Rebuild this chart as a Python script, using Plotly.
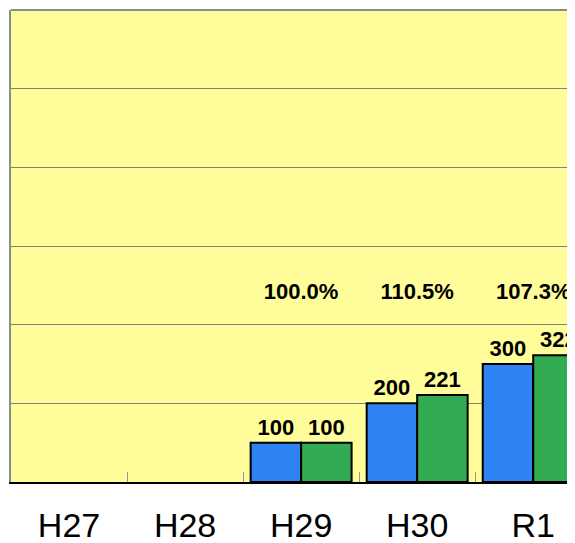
import plotly.graph_objects as go

categories = ["H27", "H28", "H29", "H30", "R1"]
series_a = [None, None, 100, 200, 300]
series_b = [None, None, 100, 221, 322]
ratio_labels = ["", "", "100.0%", "110.5%", "107.3%"]
ratio_label_y = 480

label_font = dict(family="Liberation Sans, Arial, sans-serif", size=22, color="black", weight="bold")

fig = go.Figure()
fig.add_trace(go.Bar(
    x=categories, y=series_a, name="A",
    marker=dict(color="#2E83F2", line=dict(color="black", width=2)),
    text=[("" if v is None else str(v)) for v in series_a],
    textposition="outside", textfont=label_font, cliponaxis=True,
))
fig.add_trace(go.Bar(
    x=categories, y=series_b, name="B",
    marker=dict(color="#33AB52", line=dict(color="black", width=2)),
    text=[("" if v is None else str(v)) for v in series_b],
    textposition="outside", textfont=label_font, cliponaxis=True,
))
fig.add_trace(go.Scatter(
    x=categories, y=[ratio_label_y] * len(categories), mode="text",
    text=ratio_labels, textfont=label_font, textposition="middle center",
    showlegend=False, hoverinfo="skip",
))

fig.update_layout(
    width=567, height=535,
    margin=dict(l=3, r=0, t=2, b=61, pad=0, autoexpand=False),
    paper_bgcolor="white", plot_bgcolor="#FFFD99",
    barmode="group", bargap=0.13, bargroupgap=0,
    showlegend=False,
    uniformtext=dict(mode=False),
    shapes=[dict(type="line", xref="paper", yref="paper", x0=0, x1=1, y0=1, y1=1,
                 line=dict(color="#8C8C8C", width=2))],
)
fig.update_xaxes(
    type="category", range=[-0.5, 4.36],
    showline=True, linecolor="black", linewidth=2,
    ticks="inside", tickson="boundaries", ticklen=10, tickcolor="#999999", tickwidth=1,
    tickfont=dict(family="Liberation Sans, Arial, sans-serif", size=34, color="black"),
    showgrid=False, ticklabelstandoff=12,
)
fig.update_yaxes(
    range=[0, 1200], dtick=200, showticklabels=False,
    showgrid=True, gridcolor="#808080", gridwidth=1,
    showline=True, linecolor="#8C8C8C", linewidth=2,
    zeroline=False, ticks="",
)

fig.write_html("out.html")
